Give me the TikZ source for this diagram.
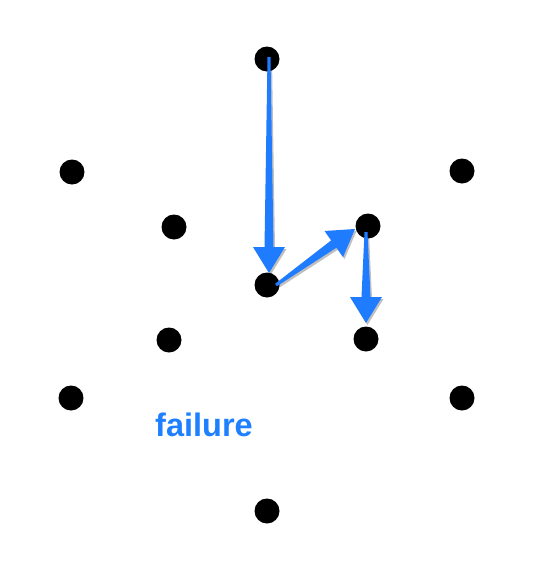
\documentclass[tikz,border=0pt]{standalone}
\usepackage{fontspec}
\setmainfont{Liberation Sans}
\usetikzlibrary{calc,shadows}
\definecolor{arrowblue}{RGB}{32,124,255}
\definecolor{textblue}{RGB}{30,128,255}
\tikzset{
  dot/.style={circle,fill=black,minimum size=25pt,inner sep=0pt},
  fatarrow/.style={fill=arrowblue,drop shadow={shadow xshift=1.5pt,shadow yshift=-2pt,opacity=0.25,fill=black}},
  label/.style={inner sep=0pt,text=textblue,font=\fontsize{32.5}{38}\selectfont\bfseries}
}
\newcommand\taperarrow[2]{%
  \coordinate (hb) at ($(#2)!26pt!(#1)$);
  \path[fatarrow] ($(#1)!1.5pt!90:(#2)$) -- ($(hb)!4.5pt!90:(#2)$) -- ($(hb)!16pt!90:(#2)$) -- (#2)
    -- ($(hb)!16pt!-90:(#2)$) -- ($(hb)!4.5pt!-90:(#2)$) -- ($(#1)!1.5pt!-90:(#2)$) -- cycle;}
\begin{document}
\begin{tikzpicture}[x=1pt,y=1pt]
\useasboundingbox (0,0) rectangle (538,-563);
\node[dot] (top) at (267,-59) {};
\node[dot] (ul) at (72,-172) {};
\node[dot] (ur) at (462,-171) {};
\node[dot] (il) at (174,-227) {};
\node[dot] (ir) at (368,-226) {};
\node[dot] (c) at (267,-285) {};
\node[dot] (ll) at (169,-340) {};
\node[dot] (lr) at (366,-339) {};
\node[dot] (bl) at (71,-398) {};
\node[dot] (br) at (462,-398) {};
\node[dot] (bot) at (267,-511) {};
\coordinate (s1) at ($(top.center)+(2,2)$);
\coordinate (t1) at ($(c.center)+(2,12)$);
\coordinate (s2) at ($(c.center)+(9,0)$);
\coordinate (t2) at ($(ir.center)+(-13,-3)$);
\coordinate (s3) at ($(ir.center)+(-2,-6)$);
\coordinate (t3) at ($(lr.center)+(0,16)$);
\taperarrow{s1}{t1}
\taperarrow{s2}{t2}
\taperarrow{s3}{t3}
\node[label] (fail) at (204,-425) {failure};
\end{tikzpicture}
\end{document}
